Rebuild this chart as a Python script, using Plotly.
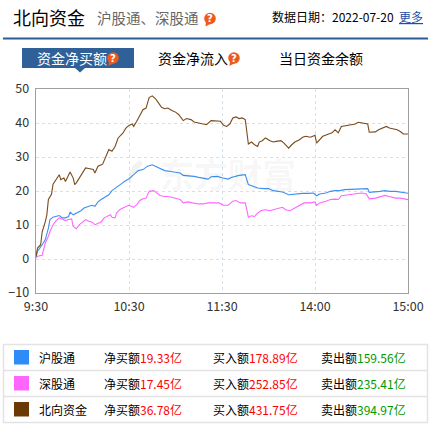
import plotly.graph_objects as go

# ---------------- data ----------------
tick_minutes = [0, 60, 120, 180, 240]
tick_labels = ["9:30", "10:30", "11:30", "14:00", "15:00"]

hgt_min = [0, 1, 4, 6, 8, 9, 11, 13, 15, 17, 19, 21, 22, 24, 26, 29, 31, 34, 36, 38, 40, 42, 44, 47, 49, 51, 53, 55, 57, 60,
           63, 66, 69, 72, 75, 77, 80, 83, 86, 90, 93, 95, 98, 102, 105, 108, 111, 113, 117, 120, 124, 126, 129, 131, 135,
           136, 137, 140, 143, 147, 150, 153, 156, 159, 163, 166, 169, 172, 176, 179, 181, 183, 187, 190, 193, 196, 199,
           202, 205, 208, 211, 214, 215, 219, 222, 225, 228, 232, 235, 238, 240]
hgt_val = [0.5, 2.3, 4.2, 5.7, 9.1, 11.6, 12.3, 12.5, 12.8, 12.1, 12.1, 12.5, 13.8, 13.0, 13.5, 14.2, 15.0, 15.5, 15.8, 15.5,
           16.8, 17.5, 18.1, 18.9, 20.1, 20.7, 21.4, 22.1, 22.8, 23.6, 24.8, 26.0, 26.3, 27.3, 27.7, 27.3, 26.6, 26.0, 25.8,
           25.6, 25.3, 24.6, 24.5, 24.3, 24.0, 23.8, 23.5, 24.2, 24.3, 23.9, 23.5, 24.0, 24.5, 24.6, 24.8, 23.3, 21.9, 21.4,
           20.9, 20.7, 20.7, 20.1, 19.9, 19.7, 18.9, 19.1, 19.1, 19.3, 19.3, 19.4, 18.6, 19.1, 19.4, 19.9, 20.1, 20.1, 20.4,
           20.5, 20.6, 20.7, 20.7, 20.7, 19.6, 19.7, 19.9, 20.1, 19.9, 19.9, 19.7, 19.4, 19.33]

sgt_min = [0, 1, 4, 5, 6, 8, 9, 11, 13, 15, 17, 19, 21, 23, 24, 26, 28, 30, 32, 34, 36, 38, 40, 42, 44, 46, 48, 49, 51, 52,
           54, 56, 58, 60, 63, 65, 67, 69, 71, 73, 76, 78, 80, 83, 85, 88, 91, 93, 95, 98, 101, 105, 108, 111, 114, 118, 121,
           124, 127, 129, 132, 135, 136, 137, 139, 141, 143, 145, 148, 151, 153, 156, 159, 161, 164, 167, 170, 173, 177, 180,
           181, 183, 187, 190, 193, 195, 197, 201, 204, 207, 210, 213, 215, 219, 222, 225, 228, 232, 235, 238, 240]
sgt_val = [0.3, 0.8, 1.1, 2.7, 4.7, 6.7, 8.1, 10.1, 11.3, 12.1, 11.6, 11.3, 11.6, 11.8, 9.6, 8.9, 10.1, 10.9, 11.6, 11.1,
           10.9, 10.1, 10.6, 10.9, 12.1, 12.5, 13.0, 12.3, 12.1, 13.5, 14.5, 15.0, 15.5, 15.8, 15.2, 16.0, 17.2, 17.7, 17.9,
           19.9, 20.1, 19.4, 18.7, 18.4, 18.4, 18.1, 17.7, 17.5, 16.5, 16.8, 16.5, 16.2, 16.2, 16.5, 16.5, 16.5, 15.8, 15.8,
           17.0, 17.2, 16.5, 16.5, 14.5, 12.3, 12.7, 12.5, 13.5, 14.2, 14.5, 14.2, 14.5, 14.8, 15.2, 14.5, 14.2, 15.0, 15.8,
           16.5, 16.5, 16.8, 15.8, 16.5, 17.0, 17.5, 17.6, 17.5, 18.6, 18.9, 19.1, 19.2, 19.4, 19.2, 17.7, 17.9, 18.4, 18.7,
           18.4, 17.9, 17.9, 17.5, 17.45]

bx_min = [0, 1, 3, 4, 6, 7, 8, 10, 11, 13, 15, 16, 18, 19, 21, 22, 24, 25, 26, 28, 30, 32, 34, 37, 38, 40, 43, 45, 47, 49,
          51, 53, 56, 58, 60, 62, 63, 65, 67, 69, 71, 73, 75, 77, 79, 81, 83, 85, 88, 90, 92, 95, 97, 100, 102, 105, 108,
          110, 113, 116, 119, 121, 123, 125, 127, 129, 131, 133, 135, 136, 137, 139, 141, 143, 144, 146, 148, 151, 153, 155,
          158, 160, 163, 165, 167, 170, 172, 174, 177, 179, 180, 181, 183, 185, 188, 191, 193, 195, 197, 200, 203, 206, 208,
          211, 214, 215, 219, 221, 224, 226, 228, 231, 233, 235, 237, 240]
bx_val = [0.8, 3.2, 4.2, 8.0, 11.0, 13.0, 17.5, 19.0, 22.0, 23.3, 24.8, 23.3, 23.8, 22.8, 24.8, 25.6, 23.8, 21.9, 22.4, 23.8,
          25.3, 26.8, 26.6, 26.3, 25.3, 27.3, 27.9, 30.2, 32.2, 31.7, 33.1, 35.6, 37.0, 38.5, 39.3, 39.7, 39.0, 40.5, 42.0,
          43.9, 44.4, 47.5, 48.0, 47.2, 45.9, 44.6, 44.2, 44.4, 43.6, 43.2, 42.5, 40.7, 41.3, 41.0, 40.3, 40.0, 39.7, 39.5,
          40.7, 40.7, 40.5, 39.3, 39.0, 39.7, 41.5, 41.8, 41.3, 41.5, 41.0, 37.5, 33.8, 34.4, 33.6, 33.1, 34.4, 34.8, 35.6,
          34.8, 34.4, 34.6, 34.8, 34.1, 32.6, 33.6, 34.4, 35.1, 35.8, 36.1, 35.8, 36.2, 36.4, 34.1, 35.1, 36.1, 36.6, 37.1,
          38.0, 37.1, 39.0, 39.3, 39.5, 39.7, 40.2, 40.0, 39.7, 37.3, 37.4, 38.0, 38.7, 39.0, 38.5, 38.3, 38.0, 37.5, 36.8,
          36.78]

series_names = ["沪股通", "深股通", "北向资金"]
series_colors = ["#2e8bf7", "#ff66ff", "#6b3906"]
line_colors = ["#3d8ff0", "#ff66ff", "#7a4a1c"]
net_buy = ["19.33亿", "17.45亿", "36.78亿"]
buy_amt = ["178.89亿", "252.85亿", "431.75亿"]
sell_amt = ["159.56亿", "235.41亿", "394.97亿"]

date_text = "2022-07-20"

# ---------------- figure ----------------
W, H = 432, 425
L, R, T, B = 36, 24, 89, 132
PW, PH = W - L - R, H - T - B


def px(x):
    return (x - L) / PW


def py(y):
    return (H - B - y) / PH


FONT = "Noto Sans CJK SC, Microsoft YaHei, sans-serif"

fig = go.Figure()
for mins, vals, c, n in [(hgt_min, hgt_val, line_colors[0], series_names[0]),
                         (sgt_min, sgt_val, line_colors[1], series_names[1]),
                         (bx_min, bx_val, line_colors[2], series_names[2])]:
    fig.add_trace(go.Scatter(x=mins, y=vals, mode="lines", name=n,
                             line=dict(color=c, width=1.1), hoverinfo="skip"))

shapes = []
ann = []


def text(x, y, t, size, color, anchor="left", family=FONT):
    ann.append(dict(xref="paper", yref="paper", x=px(x), y=py(y), text=t, showarrow=False,
                    xanchor=anchor, yanchor="middle", font=dict(size=size, color=color, family=family)))


# header
text(11, 17, "北向资金", 18, "#000")
text(95, 18, "沪股通、深股通", 14.5, "#666")
text(396, 17, "数据日期：" + date_text, 12, "#000", anchor="right")
text(397, 17, "<u>更多</u>", 12, "#1d4fa8")

shapes.append(dict(type="line", xref="paper", yref="paper", x0=px(3), x1=px(428), y0=py(38.5), y1=py(38.5),
                   line=dict(color="#2d5b96", width=2.2)))

# tabs
shapes.append(dict(type="rect", xref="paper", yref="paper", x0=px(22), x1=px(134), y0=py(48), y1=py(68),
                   fillcolor="#2f6097", line=dict(width=0)))
shapes.append(dict(type="path", xref="paper", yref="paper",
                   path=f"M {px(75)} {py(67.9)} L {px(85)} {py(67.9)} L {px(80)} {py(72.5)} Z",
                   fillcolor="#2f6097", line=dict(width=0)))
text(35, 58, "资金净买额", 14, "#fff")
text(156, 58, "资金净流入", 14, "#000")
text(277, 58, "当日资金余额", 14, "#000")


def qicon(cx, cy):
    r = 5.8
    shapes.append(dict(type="path", xref="paper", yref="paper",
                       path=f"M {px(cx - 4)} {py(cy + 3)} L {px(cx - 4.5)} {py(cy + 8)} L {px(cx + 1)} {py(cy + 5)} Z",
                       fillcolor="#ee5a1c", line=dict(width=0)))
    shapes.append(dict(type="circle", xref="paper", yref="paper", x0=px(cx - r), x1=px(cx + r),
                       y0=py(cy + r), y1=py(cy - r), fillcolor="#ee5a1c", line=dict(width=0)))
    text(cx, cy, "<b>?</b>", 10, "#fff", anchor="center", family="DejaVu Sans")


qicon(210, 18.5)
qicon(113, 58)
qicon(234, 58)

# watermark
text(228, 173, "<b>东方财富</b>", 34, "rgba(0,0,0,0.05)", anchor="center")
shapes.append(dict(type="path", xref="paper", yref="paper",
                   path=(f"M {px(140)} {py(160)} Q {px(126)} {py(168)} {px(130)} {py(186)} "
                         f"Q {px(132)} {py(174)} {px(143)} {py(164)} Z"),
                   fillcolor="rgba(0,0,0,0.05)", line=dict(width=0), layer="below"))

# legend table
row_top = [344.5, 370.5, 396.5]
row_h = 26
shapes.append(dict(type="rect", xref="paper", yref="paper", x0=px(3.5), x1=px(427.5), y0=py(344.5), y1=py(422.5),
                   line=dict(color="#e3e3e3", width=1.5), fillcolor="rgba(0,0,0,0)"))
for i in range(1, 3):
    shapes.append(dict(type="line", xref="paper", yref="paper", x0=px(3.5), x1=px(427.5),
                       y0=py(row_top[i]), y1=py(row_top[i]), line=dict(color="#e3e3e3", width=1.5)))
for i in range(3):
    cy = row_top[i] + row_h / 2
    shapes.append(dict(type="rect", xref="paper", yref="paper", x0=px(14), x1=px(29), y0=py(cy - 7.5), y1=py(cy + 7),
                       fillcolor=series_colors[i], line=dict(width=0)))
    text(37, cy, series_names[i], 12, "#000")
    text(102, cy, f"净买额<span style='color:#ff0000'>{net_buy[i]}</span>", 12, "#000")
    text(210.5, cy, f"买入额<span style='color:#ff0000'>{buy_amt[i]}</span>", 12, "#000")
    text(319, cy, f"卖出额<span style='color:#009900'>{sell_amt[i]}</span>", 12, "#000")

fig.update_layout(
    width=W, height=H,
    margin=dict(l=L, r=R, t=T, b=B, pad=0, autoexpand=False),
    paper_bgcolor="#fff", plot_bgcolor="#fff",
    showlegend=False,
    shapes=shapes, annotations=ann,
    font=dict(family=FONT, size=12, color="#333"),
    hovermode=False,
)
fig.update_xaxes(range=[0, 240], tickvals=tick_minutes, ticktext=tick_labels, automargin=False,
                 showgrid=True, gridcolor="#d3e0ee", griddash="3px,3px", gridwidth=1,
                 showline=True, linecolor="#a0a0a0", linewidth=1.3, mirror=True,
                 zeroline=False, ticks="", ticklabelstandoff=2,
                 tickfont=dict(size=12.5, color="#333", family=FONT), fixedrange=True)
fig.update_yaxes(range=[-10, 50], dtick=10, tick0=0, automargin=False,
                 showgrid=True, gridcolor="#d3e0ee", griddash="3px,3px", gridwidth=1,
                 showline=True, linecolor="#a0a0a0", linewidth=1.3, mirror=True,
                 zeroline=False, ticks="", ticklabelstandoff=3,
                 tickfont=dict(size=12.5, color="#333", family=FONT), fixedrange=True)

fig.write_html("out.html", config={"displayModeBar": False, "staticPlot": True},
               post_script="document.body.style.margin='0';document.body.style.padding='0';")
